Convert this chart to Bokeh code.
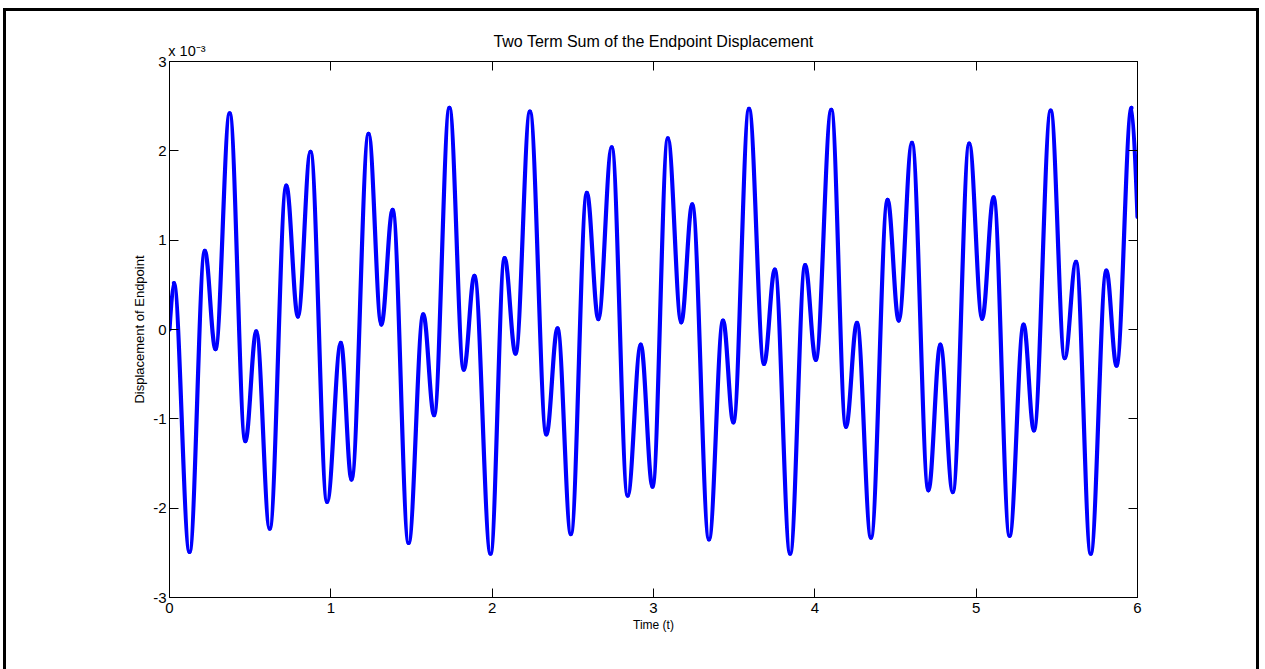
from bokeh.plotting import figure
from bokeh.models import (LinearAxis, FixedTicker, ColumnDataSource,
                          Range1d, InlineStyleSheet)
from bokeh.embed import file_html
from bokeh.resources import INLINE

# ---------------- data ----------------
# times of successive extrema of the curve (plus start and end point), seconds
t_ext = [0.0, 0.027, 0.124, 0.219, 0.285, 0.373, 0.470, 0.538, 0.621, 0.724, 0.796, 0.874,
         0.977, 1.062, 1.128, 1.234, 1.313, 1.383, 1.482, 1.573, 1.640, 1.735, 1.824, 1.890,
         1.990, 2.077, 2.145, 2.234, 2.336, 2.405, 2.488, 2.587, 2.658, 2.741, 2.840, 2.921,
         2.994, 3.089, 3.172, 3.240, 3.344, 3.431, 3.495, 3.592, 3.685, 3.752, 3.847, 3.940,
         4.006, 4.102, 4.193, 4.261, 4.348, 4.451, 4.520, 4.602, 4.704, 4.778, 4.855, 4.957,
         5.037, 5.108, 5.207, 5.294, 5.358, 5.462, 5.549, 5.619, 5.710, 5.807, 5.870, 5.963,
         6.0]
# displacement of endpoint at those times, in units of 10^-3
disp_e3 = [0.0, 0.52, -2.49, 0.88, -0.22, 2.42, -1.25, -0.02, -2.23, 1.61, 0.145, 1.99,
           -1.93, -0.15, -1.68, 2.19, 0.055, 1.34, -2.39, 0.17, -0.96, 2.48, -0.45, 0.60,
           -2.51, 0.80, -0.27, 2.44, -1.175, 0.014, -2.29, 1.53, 0.116, 2.04, -1.86, -0.17,
           -1.76, 2.14, 0.08, 1.40, -2.35, 0.10, -1.04, 2.47, -0.385, 0.67, -2.51, 0.72,
           -0.34, 2.46, -1.09, 0.075, -2.33, 1.45, 0.10, 2.09, -1.80, -0.17, -1.82, 2.08,
           0.12, 1.48, -2.31, 0.055, -1.13, 2.45, -0.32, 0.756, -2.51, 0.66, -0.405, 2.48,
           1.26]
x_ticks = [0, 1, 2, 3, 4, 5, 6]
y_ticks = [-3, -2, -1, 0, 1, 2, 3]
y_tick_labels = ["-3", "-2", "-1", "0", "1", "2", "3"]
title_text = "Two Term Sum of the Endpoint Displacement"
x_label = "Time (t)"
y_label = "Displacement of Endpoint"
scale_text = "x 10\u207b\u00b3"   # "x 10^-3" written above the y axis

FONT = "Liberation Sans"

# ---------------- smooth segments between extrema ----------------
K = 0.3634  # cubic-Bezier handle fraction for a half sine wave
n = len(t_ext)
x0, y0, x1, y1, cx0, cy0, cx1, cy1 = [], [], [], [], [], [], [], []
for i in range(n - 1):
    a, b = t_ext[i], t_ext[i + 1]
    ya, yb = disp_e3[i], disp_e3[i + 1]
    d = b - a
    x0.append(a); y0.append(ya); x1.append(b); y1.append(yb)
    if i == 0:
        cx0.append(a); cy0.append(ya)
    else:
        cx0.append(a + K * d); cy0.append(ya)
    if i == n - 2:
        cx1.append(b); cy1.append(yb)
    else:
        cx1.append(b - K * d); cy1.append(yb)
src = ColumnDataSource(dict(x0=x0, y0=y0, x1=x1, y1=y1, cx0=cx0, cy0=cy0, cx1=cx1, cy1=cy1))

W, H = 1265, 669
p = figure(width=W, height=H, output_backend="svg", toolbar_location=None,
           x_range=Range1d(0, 6), y_range=Range1d(-3, 3),
           min_border_left=169, min_border_right=W - 1137,
           min_border_top=61, min_border_bottom=H - 597,
           x_axis_location=None, y_axis_location=None)
p.background_fill_color = "white"
p.border_fill_color = "white"
p.outline_line_color = "black"
p.outline_line_width = 1
p.grid.visible = False

p.title.text = title_text
p.title.align = "center"
p.title.text_font = FONT
p.title.text_font_size = "16px"
p.title.text_font_style = "normal"
p.title.text_color = "black"
p.title.standoff = -20

def make_axis(ticks, show_labels):
    ax = LinearAxis(ticker=FixedTicker(ticks=ticks))
    ax.major_tick_in = 9
    ax.major_tick_out = 0
    ax.minor_tick_in = 0
    ax.minor_tick_out = 0
    ax.axis_line_color = "black"
    ax.major_tick_line_color = "black"
    ax.major_label_text_font = FONT
    ax.major_label_text_font_size = "15px"
    ax.major_label_text_color = "black" if show_labels else None
    ax.major_label_standoff = 5
    ax.axis_label_text_font = FONT
    ax.axis_label_text_font_style = "normal"
    ax.axis_label_text_color = "black"
    return ax

xb = make_axis(x_ticks, True)
xb.axis_label = x_label
xb.axis_label_text_font_size = "12px"
xb.axis_label_standoff = 2
p.add_layout(xb, "below")

xt = make_axis(x_ticks, False)
xt.major_label_text_font_size = "0px"
xt.major_label_standoff = 0
p.add_layout(xt, "above")

# tick-less axis that only carries the exponent text above the top-left corner
xe = LinearAxis(ticker=FixedTicker(ticks=[0.108]))
xe.major_label_overrides = {0.108: scale_text}
xe.axis_line_color = None
xe.major_tick_line_color = None
xe.major_tick_in = 0
xe.major_tick_out = 0
xe.minor_tick_line_color = None
xe.major_label_text_font = FONT
xe.major_label_text_font_size = "14.5px"
xe.major_label_text_color = "black"
xe.major_label_standoff = 3
p.add_layout(xe, "above")

yl = make_axis(y_ticks, True)
yl.major_label_overrides = {t: s for t, s in zip(y_ticks, y_tick_labels)}
yl.major_label_standoff = 3
yl.axis_label = y_label
yl.axis_label_text_font_size = "13px"
yl.axis_label_standoff = 3
p.add_layout(yl, "left")
yr = make_axis(y_ticks, False)
yr.major_label_text_font_size = "0px"
p.add_layout(yr, "right")

p.bezier(x0="x0", y0="y0", x1="x1", y1="y1", cx0="cx0", cy0="cy0", cx1="cx1", cy1="cy1",
         source=src, line_color="#0000ff", line_width=4.2, line_cap="round")

# outer frame around the whole figure
p.stylesheets = [InlineStyleSheet(css=(
    ":host{position:relative;}"
    ":host::after{content:'';position:absolute;left:3px;top:8px;width:1256px;height:661px;"
    "border:3px solid #000;border-bottom:none;box-sizing:border-box;pointer-events:none;z-index:10;}"))]

open("out.html", "w").write(file_html(p, INLINE))
